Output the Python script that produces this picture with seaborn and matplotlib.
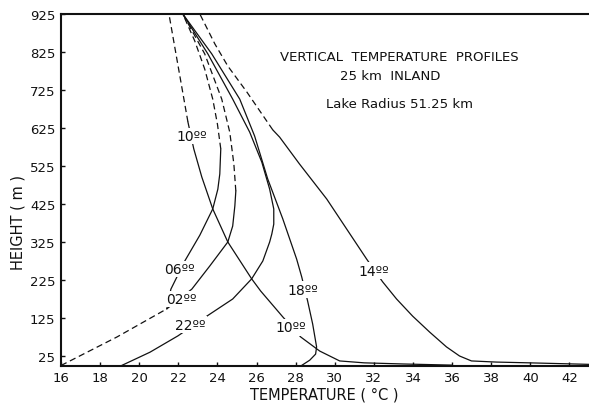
import numpy as np
import pandas as pd
import matplotlib
matplotlib.use("Agg")
import matplotlib.pyplot as plt
import seaborn as sns

# temperature (deg C) and height (m), bottom to top
t_22 = [19.1, 20.55, 21.98, 23.46, 24.78, 25.75, 26.32, 26.67, 26.78, 26.88, 26.88, 26.67, 26.27, 25.65, 24.78, 23.51, 22.23]
h_22 = [0, 35, 78, 130, 175, 228, 275, 325, 346, 372, 412, 464, 535, 614, 701, 820, 925]

t_18 = [28.3, 28.72, 29.02, 29.07, 28.87, 28.61, 28.31, 28.05, 27.34, 26.57, 25.9, 25.14, 23.71, 22.23]
h_18 = [0, 14, 30, 49, 109, 170, 233, 280, 386, 491, 604, 701, 820, 925]

t_02 = [16.0, 18.86, 21.41, 22.69, 23.61, 24.53, 24.78, 24.89, 24.94, 24.84, 24.63, 24.22, 23.35, 22.23]
h_02 = [0, 75, 149, 201, 262, 325, 367, 420, 459, 530, 614, 701, 820, 925]

t_06 = [21.41, 21.62, 22.33, 23.1, 23.76, 24.02, 24.12, 24.17, 24.0, 23.76, 23.35, 22.84, 22.23]
h_06 = [149, 201, 275, 343, 412, 464, 504, 570, 635, 701, 780, 854, 925]

t_10 = [36.0, 33.5, 31.5, 30.25, 29.23, 28.26, 27.34, 26.21, 25.75, 24.53, 23.76, 23.2, 22.79, 22.49, 22.33, 21.52]
h_10 = [1, 4, 7, 12, 38, 75, 128, 196, 228, 325, 412, 496, 570, 641, 688, 925]

t_14 = [43.0, 39.95, 38.27, 36.99, 36.38, 35.71, 34.85, 33.98, 33.16, 32.45, 31.63, 29.59, 28.2, 27.18, 26.83, 25.5, 24.53, 23.87, 23.1]
h_14 = [3, 7, 9, 12, 25, 49, 88, 130, 175, 220, 280, 438, 530, 601, 620, 720, 788, 846, 925]

# curve labels (hour) and where they sit on the curve
label_text = ["10ºº", "06ºº", "02ºº", "22ºº", "18ºº", "10ºº", "14ºº"]
label_t = [22.7, 22.08, 22.13, 22.59, 28.36, 27.75, 31.99]
label_h = [604, 254, 175, 107, 199, 101, 249]

ink = "#111111"

sns.set_style("ticks")
plt.rcParams["font.family"] = ["DejaVu Sans"]

fig = plt.figure(figsize=(5.89, 4.06), dpi=100)
ax = fig.add_axes([61 / 589, 1 - 366.5 / 406, 528 / 589, 351.5 / 406])


def draw_profile(ax, temps, heights, dashed_spans):
    df = pd.DataFrame({"T": temps, "h": heights})
    h = df["h"].to_numpy(dtype=float)
    mid = (h[:-1] + h[1:]) / 2
    dashed = np.zeros(len(mid), dtype=bool)
    for lo, hi in dashed_spans:
        dashed |= (mid >= lo) & (mid <= hi)
    start = 0
    for i in range(1, len(dashed) + 1):
        if i == len(dashed) or dashed[i] != dashed[start]:
            seg = df.iloc[start:i + 1]
            style = (0, (5, 3)) if dashed[start] else "-"
            sns.lineplot(data=seg, x="T", y="h", sort=False, estimator=None,
                         ax=ax, color=ink, lw=0.9, linestyle=style)
            start = i


draw_profile(ax, t_22, h_22, [])
draw_profile(ax, t_18, h_18, [])
draw_profile(ax, t_02, h_02, [(0, 150), (440, 925)])
draw_profile(ax, t_06, h_06, [(560, 925)])
draw_profile(ax, t_10, h_10, [(620, 925)])
draw_profile(ax, t_14, h_14, [(620, 925)])

for txt, t, h in zip(label_text, label_t, label_h):
    ax.text(t, h, txt, ha="center", va="center", fontsize=10, color=ink, zorder=5,
            bbox=dict(facecolor="white", edgecolor="none", pad=1.0))

ax.text(0.64, 0.88, "VERTICAL  TEMPERATURE  PROFILES", transform=ax.transAxes,
        ha="center", va="center", fontsize=9.5, color=ink)
ax.text(0.623, 0.824, "25 km  INLAND", transform=ax.transAxes,
        ha="center", va="center", fontsize=9.5, color=ink)
ax.text(0.642, 0.744, "Lake Radius 51.25 km", transform=ax.transAxes,
        ha="center", va="center", fontsize=9.5, color=ink)

ax.set_xlim(16, 43)
ax.set_ylim(0, 925)
ax.set_xticks(range(16, 43, 2))
ax.set_yticks(range(25, 926, 100))
ax.tick_params(direction="in", length=3, width=1, labelsize=9.5, colors=ink, pad=4)
for side in ["left", "bottom", "top"]:
    ax.spines[side].set_linewidth(1.5)
    ax.spines[side].set_color(ink)
ax.spines["right"].set_visible(False)
ax.set_xlabel("")
ax.set_ylabel("")

# axis titles placed in figure pixels like the scanned original
fig.text(324 / 589, 1 - 395 / 406, "TEMPERATURE ( °C )", ha="center", va="center",
         fontsize=10.5, color=ink)
fig.text(18 / 589, 1 - 222 / 406, "HEIGHT ( m )", ha="center", va="center",
         rotation=90, fontsize=10.5, color=ink)

fig.savefig("out.png", dpi=100)
